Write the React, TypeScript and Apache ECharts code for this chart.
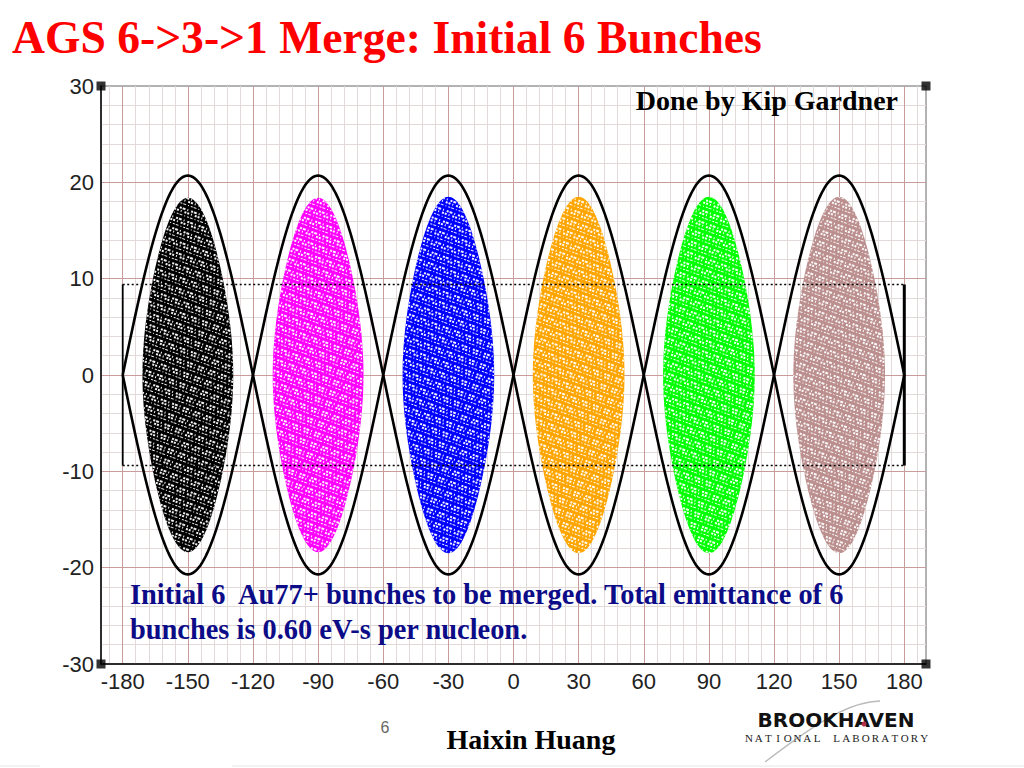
import React, { useEffect, useRef } from 'react';
import * as echarts from 'echarts';

// ---- data ----
const xTickLabels = [-180, -150, -120, -90, -60, -30, 0, 30, 60, 90, 120, 150, 180];
const xMin = -190;
const xMax = 190;
const yMin = -30;
const yMax = 30;
const yTickInterval = 10;

const bucketCenters = [-150, -90, -30, 30, 90, 150];
const bucketHalfWidth = 30;
const separatrixHeight = 20.7;

const bunchHeights = [18.4, 18.4, 18.5, 18.5, 18.5, 18.5];
const bunchColors = ['#000000', '#ff00ff', '#0000ff', '#ffa500', '#00ff00', '#bc8f8f'];

const dottedLevel = 9.4;
const dottedXRange = [-180, 180];

// grid spacing (axis layout)
const xMajorStep = 30;
const xMinorStep = 6;
const yMajorStep = 10;
const yMinorStep = 2;

function range(a: number, b: number, step: number) {
  const out: number[] = [];
  for (let v = a; v <= b + 1e-9; v += step) out.push(Math.round(v * 1000) / 1000);
  return out;
}

const xMajorGrid = range(-180, 180, xMajorStep);
const xMinorGrid = range(-186, 186, xMinorStep).filter((v) => v % xMajorStep !== 0);
const yMajorGrid = range(-20, 20, yMajorStep);
const yMinorGrid = range(-28, 28, yMinorStep).filter((v) => v % yMajorStep !== 0);

const SERIF = "'Liberation Serif', 'Times New Roman', serif";
const SANS = "'Liberation Sans', Arial, sans-serif";

const labText = 'NATIONAL LABORATORY';

export default function App() {
  const ref = useRef<HTMLDivElement>(null);

  useEffect(() => {
    document.body.style.margin = '0';
    if (!ref.current) return;
    const chart = echarts.init(ref.current, null, { renderer: 'svg' });

    const minorColor = '#e2d9d9';
    const majorColor = '#c99c9c';

    const gridLines = [
      ...xMinorGrid.map((v) => ({ xAxis: v, lineStyle: { color: minorColor, width: 1, type: 'solid' } })),
      ...yMinorGrid.map((v) => ({ yAxis: v, lineStyle: { color: minorColor, width: 1, type: 'solid' } })),
      ...xMajorGrid.map((v) => ({ xAxis: v, lineStyle: { color: majorColor, width: 1, type: 'solid' } })),
      ...yMajorGrid.map((v) => ({ yAxis: v, lineStyle: { color: majorColor, width: 1, type: 'solid' } })),
    ];

    const separatrixData = bucketCenters.map((c) => [c, separatrixHeight, bucketHalfWidth]);
    const bunchData = bucketCenters.map((c, i) => [c, bunchHeights[i], separatrixHeight, bucketHalfWidth]);

    // letter-spaced lab name
    const labLeft = 744;
    const labRight = 929;
    const labChars = labText.split('').map((ch, i) => ({
      type: 'text',
      x: labLeft + ((labRight - labLeft) * (i + 0.5)) / labText.length,
      y: 737.5,
      style: {
        text: ch,
        font: `11px ${SERIF}`,
        fill: '#222',
        textAlign: 'center',
        textVerticalAlign: 'middle',
      },
    }));

    const speckle = {
      symbol: 'rect',
      symbolSize: 0.95,
      color: '#ffffff',
      dashArrayX: [
        [2, 1, 3, 2, 1, 3],
        [1, 3, 2, 1, 2, 2],
        [3, 2, 1, 2, 2, 1],
      ],
      dashArrayY: [2, 1, 2, 2, 1, 3],
      rotation: 0.35,
    };

    const contour = (api: any, c: number, H: number, Y: number, hw: number) => {
      const k = Math.min(H / Y, 0.9999);
      const pts: number[][] = [];
      const N = 160;
      for (let j = 0; j < N; j++) {
        const th = (2 * Math.PI * j) / N;
        const phi = 2 * Math.asin(k * Math.sin(th));
        pts.push(api.coord([c + (phi / Math.PI) * hw, H * Math.cos(th)]));
      }
      return pts;
    };

    const option: any = {
      animation: false,
      backgroundColor: '#ffffff',
      grid: {
        left: 101,
        top: 86,
        width: 825,
        height: 578,
        show: true,
        borderColor: '#666',
        borderWidth: 1,
        backgroundColor: 'transparent',
      },
      xAxis: {
        type: 'value',
        min: xMin,
        max: xMax,
        axisLine: { show: true, onZero: false, lineStyle: { color: '#000', width: 1.5 } },
        axisTick: { show: false },
        splitLine: { show: false },
        axisLabel: {
          customValues: xTickLabels,
          fontSize: 22,
          color: '#222',
          fontFamily: SANS,
          margin: 6,
        },
      },
      yAxis: {
        type: 'value',
        min: yMin,
        max: yMax,
        interval: yTickInterval,
        axisLine: { show: true, onZero: false, lineStyle: { color: '#000', width: 1.5 } },
        axisTick: { show: false },
        splitLine: { show: false },
        axisLabel: { fontSize: 22, color: '#222', fontFamily: SANS, margin: 7 },
      },
      series: [
        {
          type: 'line',
          data: [],
          silent: true,
          z: 0,
          markLine: {
            z: 0,
            silent: true,
            animation: false,
            symbol: ['none', 'none'],
            label: { show: false },
            emphasis: { disabled: true },
            lineStyle: { type: 'solid' },
            data: gridLines,
          },
        },
        {
          type: 'custom',
          name: 'bunches',
          z: 3,
          silent: true,
          data: bunchData,
          renderItem: (params: any, api: any) => {
            const c = api.value(0);
            const H = api.value(1);
            const Y = api.value(2);
            const hw = api.value(3);
            return {
              type: 'polygon',
              shape: { points: contour(api, c, H, Y, hw) },
              style: { fill: bunchColors[params.dataIndex], decal: speckle },
            };
          },
        },
        {
          type: 'custom',
          name: 'separatrix',
          z: 5,
          silent: true,
          data: separatrixData,
          renderItem: (params: any, api: any) => {
            const c = api.value(0);
            const Y = api.value(1);
            const hw = api.value(2);
            const up: number[][] = [];
            const dn: number[][] = [];
            const N = 80;
            for (let i = 0; i <= N; i++) {
              const x = c - hw + (2 * hw * i) / N;
              const y = Y * Math.cos((Math.PI * (x - c)) / (2 * hw));
              up.push(api.coord([x, y]));
              dn.push(api.coord([x, -y]));
            }
            const st = { stroke: '#000', lineWidth: 2.6, fill: null };
            return {
              type: 'group',
              children: [
                { type: 'polyline', shape: { points: up }, style: st },
                { type: 'polyline', shape: { points: dn }, style: st },
              ],
            };
          },
        },
        {
          type: 'line',
          z: 6,
          silent: true,
          symbol: 'none',
          data: [[dottedXRange[0], dottedLevel], [dottedXRange[1], dottedLevel]],
          lineStyle: { color: '#000', width: 1.6, type: [2, 2.5] },
        },
        {
          type: 'line',
          z: 6,
          silent: true,
          symbol: 'none',
          data: [[dottedXRange[0], -dottedLevel], [dottedXRange[1], -dottedLevel]],
          lineStyle: { color: '#000', width: 1.6, type: [2, 2.5] },
        },
        {
          type: 'line',
          z: 6,
          silent: true,
          symbol: 'none',
          data: [[dottedXRange[0], -dottedLevel], [dottedXRange[0], dottedLevel]],
          lineStyle: { color: '#000', width: 1.8, type: 'solid' },
        },
        {
          type: 'line',
          z: 6,
          silent: true,
          symbol: 'none',
          data: [[dottedXRange[1], -dottedLevel], [dottedXRange[1], dottedLevel]],
          lineStyle: { color: '#000', width: 3, type: 'solid' },
        },
        {
          type: 'scatter',
          z: 8,
          silent: true,
          symbol: 'rect',
          symbolSize: 9,
          itemStyle: { color: '#000' },
          data: [[xMin, yMax], [xMax, yMax], [xMin, yMin], [xMax, yMin]],
          clip: false,
        },
      ],
      graphic: [
        {
          type: 'text',
          x: 12,
          y: 37,
          style: {
            text: 'AGS 6->3->1 Merge: Initial 6 Bunches',
            font: `bold 45.6px ${SERIF}`,
            fill: '#ff0000',
            textVerticalAlign: 'middle',
          },
        },
        {
          type: 'text',
          x: 898,
          y: 100,
          z: 10,
          style: {
            text: 'Done by Kip Gardner',
            font: `bold 28px ${SERIF}`,
            fill: '#000',
            textAlign: 'right',
            textVerticalAlign: 'middle',
          },
        },
        {
          type: 'text',
          x: 130,
          y: 594,
          z: 10,
          style: {
            text: 'Initial 6  Au77+ bunches to be merged. Total emittance of 6',
            font: `bold 28.4px ${SERIF}`,
            fill: '#0c0c88',
            textVerticalAlign: 'middle',
          },
        },
        {
          type: 'text',
          x: 130,
          y: 629,
          z: 10,
          style: {
            text: 'bunches is 0.60 eV-s per nucleon.',
            font: `bold 28.4px ${SERIF}`,
            fill: '#0c0c88',
            textVerticalAlign: 'middle',
          },
        },
        {
          type: 'text',
          x: 385,
          y: 727,
          style: {
            text: '6',
            font: `16px ${SANS}`,
            fill: '#666',
            textAlign: 'center',
            textVerticalAlign: 'middle',
          },
        },
        {
          type: 'text',
          x: 531,
          y: 739,
          style: {
            text: 'Haixin Huang',
            font: `bold 28px ${SERIF}`,
            fill: '#000',
            textAlign: 'center',
            textVerticalAlign: 'middle',
          },
        },
        {
          type: 'bezierCurve',
          shape: { x1: 765, y1: 762, x2: 880, y2: 701, cpx1: 820, cpy1: 720, cpx2: 850, cpy2: 702 },
          style: { stroke: '#bbb', lineWidth: 1.5, fill: null },
        },
        {
          type: 'text',
          x: 836,
          y: 719.5,
          style: {
            text: 'BROOKHAVEN',
            font: `bold 20px 'DejaVu Sans', sans-serif`,
            fill: '#111',
            textAlign: 'center',
            textVerticalAlign: 'middle',
          },
        },
        {
          type: 'circle',
          shape: { cx: 864, cy: 724, r: 2.5 },
          style: { fill: '#b0304a' },
        },
        ...labChars,
        {
          type: 'line',
          shape: { x1: 0, y1: 766, x2: 40, y2: 766 },
          style: { stroke: '#e6e6e6', lineWidth: 1 },
        },
        {
          type: 'line',
          shape: { x1: 232, y1: 766, x2: 1024, y2: 766 },
          style: { stroke: '#e6e6e6', lineWidth: 1 },
        },
      ],
    };

    chart.setOption(option);
    return () => {
      chart.dispose();
    };
  }, []);

  return <div ref={ref} style={{ width: 1024, height: 768 }} />;
}
